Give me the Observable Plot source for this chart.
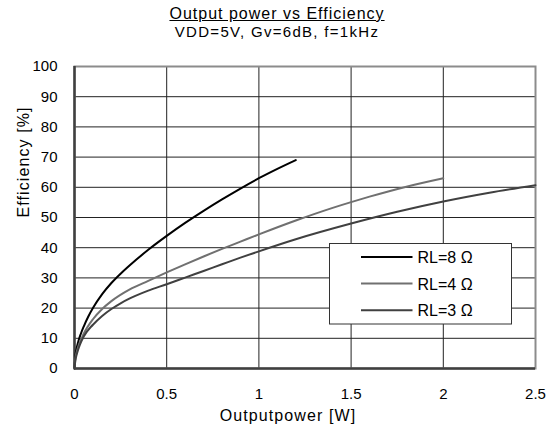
<!DOCTYPE html>
<html><head><meta charset="utf-8">
<script src="https://cdn.jsdelivr.net/npm/d3@7"></script>
<script src="https://cdn.jsdelivr.net/npm/@observablehq/plot@0.6"></script>
<style>
body{margin:0;background:#fff;font-family:"Liberation Sans",Arial,sans-serif;color:#000;}
#wrap{position:relative;width:554px;height:432px;overflow:hidden;}
#head{position:relative;height:45px;}
.t{position:absolute;left:0;width:554px;text-align:center;line-height:18px;}
</style></head><body>
<div id="wrap">
  <div id="head">
    <div class="t" style="top:5px;font-size:16px;letter-spacing:1px;text-decoration:underline;">Output power vs Efficiency</div>
    <div class="t" style="top:23px;font-size:15px;letter-spacing:1.3px;">VDD=5V, Gv=6dB, f=1kHz</div>
  </div>
  <div id="chart"></div>
</div>
<script>
const seriesNames = ["RL=8 Ω", "RL=4 Ω", "RL=3 Ω"];
const seriesColors = ["#000000", "#707070", "#404040"];

const P8 = [0, 0.005, 0.01, 0.02, 0.035, 0.05, 0.075, 0.1, 0.15, 0.2, 0.25, 0.3, 0.4, 0.5, 0.6, 0.7, 0.8, 0.9, 1.0, 1.1, 1.2];
const E8 = [0, 4.3, 6.2, 8.8, 11.6, 13.9, 17.2, 20, 24.6, 28.3, 31.4, 34.2, 39.3, 43.9, 48.2, 52.2, 56, 59.6, 63, 66.1, 69];

const P4 = [0, 0.005, 0.01, 0.02, 0.05, 0.1, 0.15, 0.2, 0.3, 0.4, 0.5, 0.6, 0.7, 0.8, 0.9, 1.0, 1.2, 1.4, 1.5, 1.6, 1.8, 2.0];
const E4 = [0, 3.4, 5, 7.2, 11.5, 16.3, 19.7, 22.3, 26.2, 29, 31.8, 34.5, 37.1, 39.6, 42, 44.4, 49, 53.2, 55.1, 56.9, 60.2, 63];

const P3 = [0, 0.005, 0.01, 0.02, 0.03, 0.05, 0.1, 0.15, 0.2, 0.25, 0.3, 0.4, 0.5, 0.6, 0.7, 0.8, 0.9, 1.0, 1.2, 1.5, 1.75, 2.0, 2.25, 2.5];
const E3 = [0, 2.8, 4.2, 6.3, 8, 10.6, 14.5, 17.4, 19.7, 21.6, 23.2, 25.8, 27.9, 30.1, 32.3, 34.5, 36.7, 38.8, 42.8, 48, 51.9, 55.3, 58.2, 60.7];

const xTicks = [0, 0.5, 1, 1.5, 2, 2.5];
const yTicks = [0, 10, 20, 30, 40, 50, 60, 70, 80, 90, 100];
const xLabel = "Outputpower [W]";
const yLabel = "Efficiency [%]";

const series = [[P8, E8], [P4, E4], [P3, E3]];
const data = series.flatMap(([P, E], k) => P.map((p, i) => ({p, e: E[i], s: seriesNames[k]})));

const chart = Plot.plot({
  width: 554, height: 387,
  marginTop: 21, marginBottom: 64, marginLeft: 74, marginRight: 19,
  x: {domain: [0, 2.5]},
  y: {domain: [0, 100]},
  color: {domain: seriesNames, range: seriesColors},
  style: {fontFamily: "'Liberation Sans', Arial, sans-serif", fontSize: "15px", color: "#000", background: "#fff"},
  marks: [
    Plot.gridX(xTicks.filter(d => d > 0 && d < 2.5), {stroke: "#222", strokeOpacity: 1, strokeWidth: 1}),
    Plot.gridY(yTicks.filter(d => d > 0 && d < 100), {stroke: "#222", strokeOpacity: 1, strokeWidth: 1}),
    Plot.frame({stroke: "#8c8c8c", strokeWidth: 2}),
    Plot.ruleX([0], {stroke: "#404040", strokeWidth: 2.5}),
    Plot.ruleY([0], {stroke: "#404040", strokeWidth: 2.5}),
    Plot.line(data, {x: "p", y: "e", z: "s", stroke: "s", strokeWidth: 2, curve: "monotone-x"}),
    Plot.axisX({ticks: xTicks, tickSize: 0, tickPadding: 20, tickFormat: d => String(d), label: null, fontSize: 15}),
    Plot.axisY({ticks: yTicks, tickSize: 0, tickPadding: 17, tickFormat: d => String(d), label: null, fontSize: 15}),
    Plot.text([xLabel], {frameAnchor: "bottom", text: d => d, dx: -17, dy: 52, fontSize: 16}),
    Plot.text([yLabel], {frameAnchor: "left", text: d => d, rotate: -90, dx: -51, fontSize: 16})
  ]
});
document.getElementById("chart").appendChild(chart);
d3.select(chart).selectAll("text").filter(function(){ return this.textContent === xLabel || this.textContent === yLabel; }).style("letter-spacing", "1.1px");

// legend box (overlay, built from series arrays)
const lg = d3.select("#wrap").append("svg").attr("id", "legend")
  .attr("width", 554).attr("height", 432)
  .style("position", "absolute").style("left", "0px").style("top", "0px").style("pointer-events", "none");
lg.append("rect").attr("x", 329.5).attr("y", 243.5).attr("width", 182).attr("height", 80.5)
  .attr("fill", "#fff").attr("stroke", "#333").attr("stroke-width", 1);
seriesNames.forEach((name, i) => {
  const yy = 257 + i * 26.6;
  lg.append("line").attr("x1", 361).attr("x2", 412.5).attr("y1", yy).attr("y2", yy)
    .attr("stroke", seriesColors[i]).attr("stroke-width", 2);
  lg.append("text").attr("x", 417.5).attr("y", yy + 6).text(name)
    .attr("font-family", "'Liberation Sans', Arial, sans-serif").attr("font-size", 16).attr("fill", "#000");
});
</script>
</body></html>
